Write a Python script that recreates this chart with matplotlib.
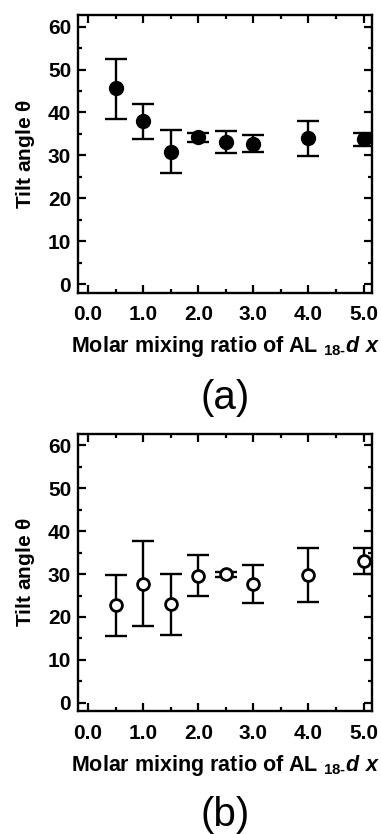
import matplotlib
matplotlib.use('Agg')
import matplotlib.pyplot as plt
from matplotlib.ticker import MultipleLocator

plt.rcParams['font.family'] = ['Liberation Sans', 'DejaVu Sans']
plt.rcParams['font.weight'] = 'bold'
plt.rcParams['mathtext.fontset'] = 'custom'
plt.rcParams['mathtext.rm'] = 'Liberation Sans:bold'
plt.rcParams['mathtext.bf'] = 'Liberation Sans:bold'
plt.rcParams['mathtext.it'] = 'Liberation Sans:bold:italic'

# mixing ratio values
x = [0.5, 1.0, 1.5, 2.0, 2.5, 3.0, 4.0, 5.0]

# panel (a): filled circles
tilt_a = [45.6, 38.0, 30.9, 34.3, 33.2, 32.7, 34.0, 33.7]
upper_a = [52.4, 41.9, 36.0, 35.3, 35.6, 34.7, 38.1, 35.3]
lower_a = [38.5, 33.8, 25.9, 33.2, 30.5, 30.8, 29.8, 32.2]

# panel (b): open circles
tilt_b = [22.7, 27.6, 23.0, 29.6, 29.9, 27.7, 29.8, 33.0]
upper_b = [29.8, 37.6, 30.1, 34.4, 30.5, 32.2, 36.1, 36.0]
lower_b = [15.6, 17.8, 15.8, 25.0, 29.2, 23.3, 23.6, 30.0]

x_ticks = [0.0, 1.0, 2.0, 3.0, 4.0, 5.0]
x_ticklabels = ['0.0', '1.0', '2.0', '3.0', '4.0', '5.0']
y_ticks = [0, 10, 20, 30, 40, 50, 60]

xlabel = r'Molar mixing ratio of AL $_{\text{18-}}\mathit{d}\ \mathit{x}$'
ylabel = r'Tilt angle $\mathrm{\theta}$'

fig = plt.figure(figsize=(3.81, 8.34), dpi=100)
ax_a = fig.add_axes([0.205, 0.649, 0.771, 0.333])
ax_b = fig.add_axes([0.205, 0.147, 0.771, 0.333])


def draw_panel(ax, y, lo, hi, filled):
    yerr = [[v - l for v, l in zip(y, lo)], [h - v for v, h in zip(y, hi)]]
    ax.errorbar(x, y, yerr=yerr, fmt='none', ecolor='black',
                elinewidth=1.7, capsize=8, capthick=1.7)
    if filled:
        ax.plot(x, y, 'o', color='black', markersize=10, zorder=3)
    else:
        ax.plot(x, y, 'o', markerfacecolor='white', markeredgecolor='black',
                markersize=8.5, markeredgewidth=2.0, zorder=3)
    ax.set_xlim(-0.18, 5.15)
    ax.set_ylim(-2.0, 62.7)
    ax.set_xticks(x_ticks)
    ax.set_xticklabels(x_ticklabels)
    ax.set_yticks(y_ticks)
    ax.xaxis.set_minor_locator(MultipleLocator(0.5))
    ax.yaxis.set_minor_locator(MultipleLocator(5))
    ax.tick_params(which='both', direction='in', top=True, right=True,
                   labelsize=15, width=1.6)
    ax.tick_params(axis='x', pad=9)
    ax.tick_params(axis='y', pad=5)
    ax.tick_params(which='major', length=6)
    ax.tick_params(which='minor', length=3)
    for lab in ax.get_xticklabels() + ax.get_yticklabels():
        lab.set_fontweight('bold')
    for s in ax.spines.values():
        s.set_linewidth(1.7)
    ax.set_xlabel(xlabel, fontsize=15.5, fontweight='bold', labelpad=7)
    ax.set_ylabel(ylabel, fontsize=15, fontweight='bold', labelpad=8)


draw_panel(ax_a, tilt_a, lower_a, upper_a, True)
draw_panel(ax_b, tilt_b, lower_b, upper_b, False)

fig.text(0.59, 1 - 398 / 834, '(a)', ha='center', va='center',
         fontsize=29, fontweight='normal')
fig.text(0.59, 1 - 815 / 834, '(b)', ha='center', va='center',
         fontsize=29, fontweight='normal')

fig.savefig('out.png', dpi=100)
